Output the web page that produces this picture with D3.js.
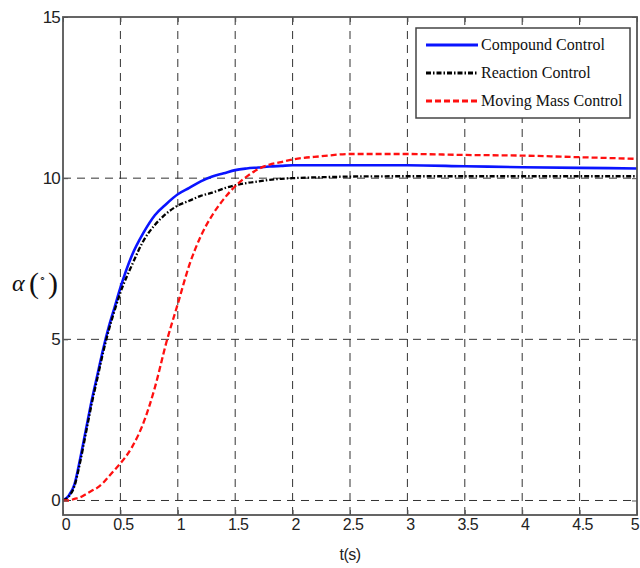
<!DOCTYPE html>
<html>
<head>
<meta charset="utf-8">
<script src="https://d3js.org/d3.v7.min.js"></script>
<style>
  body { margin: 0; background: #fff; }
  svg { display: block; }
</style>
</head>
<body>
<svg id="chart" width="640" height="568"></svg>
<script>
  // time samples (s)
  const time = [0, 0.05, 0.1, 0.15, 0.2, 0.25, 0.3, 0.35, 0.4, 0.45, 0.5, 0.6, 0.7, 0.8, 0.9,
    1.0, 1.1, 1.2, 1.3, 1.4, 1.5, 1.6, 1.7, 1.8, 1.9, 2.0, 2.25, 2.5, 3, 3.5, 4, 4.5, 5];
  // angle of attack (deg)
  const compound = [0, 0.15, 0.5, 1.3, 2.2, 3.1, 3.9, 4.7, 5.4, 6.0, 6.6, 7.6, 8.3, 8.85, 9.2,
    9.5, 9.7, 9.9, 10.05, 10.15, 10.25, 10.3, 10.33, 10.36, 10.38, 10.4, 10.4, 10.4, 10.4, 10.37, 10.34, 10.32, 10.3];
  const reaction = [0, 0.12, 0.45, 1.2, 2.1, 3.0, 3.8, 4.6, 5.3, 5.9, 6.45, 7.3, 8.05, 8.55, 8.9,
    9.15, 9.3, 9.45, 9.55, 9.68, 9.78, 9.85, 9.9, 9.95, 9.98, 10.0, 10.03, 10.05, 10.06, 10.06, 10.06, 10.06, 10.06];
  const movingMass = [0, 0, 0.05, 0.1, 0.2, 0.3, 0.4, 0.55, 0.75, 0.95, 1.15, 1.65, 2.4, 3.5, 4.9,
    6.1, 7.3, 8.2, 8.85, 9.35, 9.75, 10.05, 10.28, 10.42, 10.5, 10.58, 10.68, 10.75, 10.75, 10.72, 10.7, 10.65, 10.6];

  const xTicks = [0, 0.5, 1, 1.5, 2, 2.5, 3, 3.5, 4, 4.5, 5];
  const yTicks = [0, 5, 10, 15];
  const seriesNames = ["Compound Control", "Reaction Control", "Moving Mass Control"];

  const svg = d3.select("#chart");
  const mLeft = 63, mRight = 637, mTop = 17, mBottom = 515;

  const x = d3.scaleLinear().domain([0, 5]).range([mLeft, mRight]);
  const y = d3.scaleLinear().domain([-0.45, 15]).range([mBottom, mTop]);

  // grid
  const grid = svg.append("g")
    .attr("stroke", "#333")
    .attr("stroke-width", 1)
    .attr("stroke-dasharray", "8,6");
  grid.selectAll(".vg").data(xTicks.slice(1, -1)).enter().append("line")
    .attr("x1", d => x(d)).attr("x2", d => x(d))
    .attr("y1", mTop).attr("y2", mBottom);
  grid.selectAll(".hg").data(yTicks.slice(0, -1)).enter().append("line")
    .attr("y1", d => y(d)).attr("y2", d => y(d))
    .attr("x1", mLeft).attr("x2", mRight);

  // lines
  const series = [
    { values: compound, color: "#0a14ff", width: 2.6, dash: null },
    { values: reaction, color: "#000", width: 2.3, dash: "5,2,1.5,2" },
    { values: movingMass, color: "#ff1010", width: 2.3, dash: "6,3" }
  ];
  const line = d3.line()
    .x((d, i) => x(time[i]))
    .y(d => y(d))
    .curve(d3.curveMonotoneX);
  svg.append("g").selectAll("path").data(series).enter().append("path")
    .attr("d", d => line(d.values))
    .attr("fill", "none")
    .attr("stroke", d => d.color)
    .attr("stroke-width", d => d.width)
    .attr("stroke-dasharray", d => d.dash);

  // axes box with inward ticks
  const axisColor = "#555";
  svg.append("g").attr("transform", `translate(0,${mBottom})`)
    .call(d3.axisTop(x).tickValues(xTicks).tickSize(5).tickFormat(""))
    .call(g => g.select(".domain").remove())
    .selectAll("line").attr("stroke", axisColor);
  svg.append("g").attr("transform", `translate(0,${mTop})`)
    .call(d3.axisBottom(x).tickValues(xTicks).tickSize(5).tickFormat(""))
    .call(g => g.select(".domain").remove())
    .selectAll("line").attr("stroke", axisColor);
  svg.append("g").attr("transform", `translate(${mLeft},0)`)
    .call(d3.axisRight(y).tickValues(yTicks).tickSize(5).tickFormat(""))
    .call(g => g.select(".domain").remove())
    .selectAll("line").attr("stroke", axisColor);
  svg.append("g").attr("transform", `translate(${mRight},0)`)
    .call(d3.axisLeft(y).tickValues(yTicks).tickSize(5).tickFormat(""))
    .call(g => g.select(".domain").remove())
    .selectAll("line").attr("stroke", axisColor);

  svg.append("rect")
    .attr("x", mLeft).attr("y", mTop)
    .attr("width", mRight - mLeft).attr("height", mBottom - mTop)
    .attr("fill", "none").attr("stroke", axisColor).attr("stroke-width", 1.8);

  // tick labels
  svg.append("g").selectAll("text").data(xTicks).enter().append("text")
    .attr("x", d => d === 5 ? 639 : x(d) + 3)
    .attr("y", 530)
    .attr("text-anchor", d => d === 5 ? "end" : "middle")
    .attr("font-family", "Liberation Sans, Arial, sans-serif")
    .attr("font-size", 16)
    .attr("letter-spacing", -0.6)
    .attr("fill", "#222")
    .text(d => d);
  svg.append("g").selectAll("text").data(yTicks).enter().append("text")
    .attr("x", mLeft - 3)
    .attr("y", d => y(d) + 6)
    .attr("text-anchor", "end")
    .attr("font-family", "Liberation Sans, Arial, sans-serif")
    .attr("font-size", 17)
    .attr("letter-spacing", -0.8)
    .attr("fill", "#222")
    .text(d => d);

  // axis labels
  svg.append("text")
    .attr("x", 350).attr("y", 560)
    .attr("text-anchor", "middle")
    .attr("font-family", "Liberation Sans, Arial, sans-serif")
    .attr("font-size", 16)
    .attr("letter-spacing", -0.5)
    .attr("fill", "#222")
    .text("t(s)");

  const ylab = svg.append("g").attr("font-family", "Liberation Serif, Times New Roman, serif").attr("fill", "#111");
  ylab.append("text").attr("x", 12).attr("y", 291).attr("font-size", 24).attr("font-style", "italic").text("α");
  ylab.append("text").attr("x", 29).attr("y", 293).attr("font-size", 30).attr("font-weight", 300).text("(");
  ylab.append("text").attr("x", 39).attr("y", 282).attr("font-size", 11).text("∘");
  ylab.append("text").attr("x", 48).attr("y", 293).attr("font-size", 30).attr("font-weight", 300).text(")");

  // legend
  const lg = svg.append("g");
  lg.append("rect")
    .attr("x", 416).attr("y", 28).attr("width", 214).attr("height", 90)
    .attr("fill", "#fff").attr("stroke", "#444").attr("stroke-width", 1.5);
  const rows = lg.selectAll(".row").data(series).enter().append("g")
    .attr("transform", (d, i) => `translate(0,${45 + i * 28})`);
  rows.append("line")
    .attr("x1", 426).attr("x2", 478)
    .attr("stroke", d => d.color)
    .attr("stroke-width", (d, i) => i === 0 ? 3.2 : 2.8)
    .attr("stroke-dasharray", d => d.dash);
  rows.append("text")
    .attr("x", 481).attr("y", 5)
    .attr("font-family", "Liberation Serif, Times New Roman, serif")
    .attr("font-size", 16)
    .attr("fill", "#111")
    .text((d, i) => seriesNames[i]);
</script>
</body>
</html>
